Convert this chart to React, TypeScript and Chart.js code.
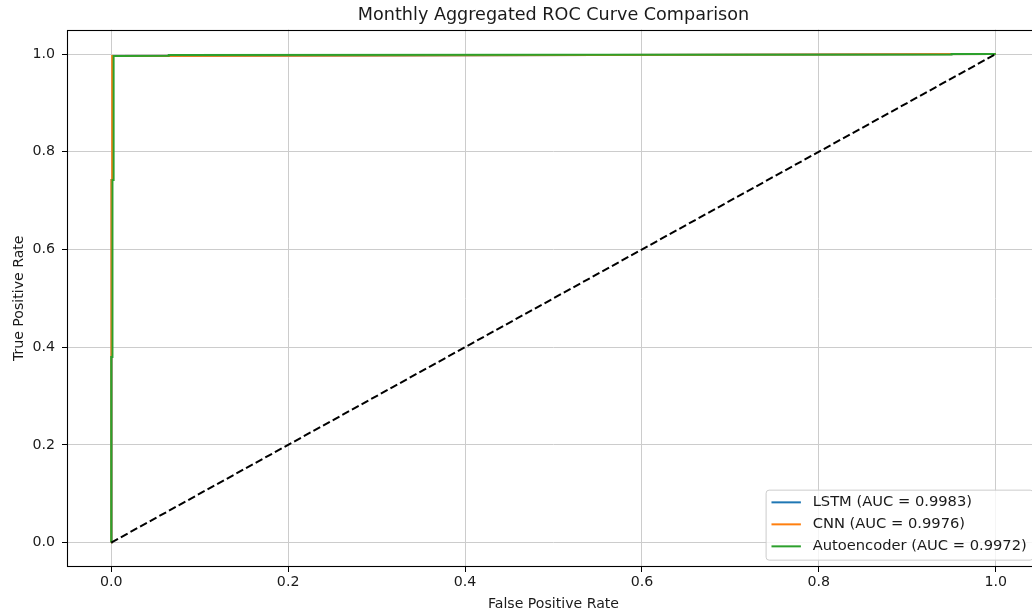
import React, { useEffect, useRef } from "react";
import { Chart, registerables } from "chart.js";

Chart.register(...registerables);

// ---- Data ----
const chartTitle = "Monthly Aggregated ROC Curve Comparison";
const xAxisTitle = "False Positive Rate";
const yAxisTitle = "True Positive Rate";

const xTicks = [0, 0.2, 0.4, 0.6, 0.8, 1.0];
const yTicks = [0, 0.2, 0.4, 0.6, 0.8, 1.0];

const seriesLabels = ["LSTM (AUC = 0.9983)", "CNN (AUC = 0.9976)", "Autoencoder (AUC = 0.9972)"];
const seriesColors = ["#1f77b4", "#ff7f0e", "#2ca02c"];

const lstmFpr = [0, 0, 0.0007, 0.0007, 0.0018, 0.0018, 0.3, 0.8, 1.0];
const lstmTpr = [0, 0.3, 0.3, 0.742, 0.742, 0.996, 0.997, 0.999, 1.0];

const cnnFpr = [0, 0, 0.0003, 0.0003, 0.0011, 0.0011, 0.3, 0.8, 1.0];
const cnnTpr = [0, 0.175, 0.175, 0.742, 0.742, 0.996, 0.997, 0.999, 1.0];

const aeFpr = [0, 0, 0.0014, 0.0014, 0.0027, 0.0027, 0.065, 0.065, 0.95, 0.95, 1.0];
const aeTpr = [0, 0.38, 0.38, 0.742, 0.742, 0.996, 0.9965, 0.998, 0.999, 1.0, 1.0];

const chanceFpr = [0, 1];
const chanceTpr = [0, 1];

// ---- Styles ----
const FONT = '"DejaVu Sans", sans-serif';
const TEXT = "#1a1a1a";
const GRID = "#cccccc";

const toPoints = (xs: number[], ys: number[]) => xs.map((x, i) => ({ x, y: ys[i] }));

const framePlugin = {
  id: "frame",
  afterDatasetsDraw(chart: any) {
    const { ctx, chartArea } = chart;
    ctx.save();
    ctx.strokeStyle = "#000";
    ctx.lineWidth = 1.1;
    const l = Math.round(chartArea.left) + 0.5;
    const t = Math.round(chartArea.top) + 0.5;
    const r = Math.round(chartArea.right) - 0.5;
    const b = Math.round(chartArea.bottom) - 0.5;
    ctx.strokeRect(l, t, r - l, b - t);
    ctx.restore();
  },
};

const legendPlugin = {
  id: "boxLegend",
  afterDraw(chart: any) {
    const { ctx, chartArea } = chart;
    const size = 14.7;
    ctx.save();
    ctx.font = `${size}px ${FONT}`;
    const maxW = Math.max(...seriesLabels.map((t) => ctx.measureText(t).width));
    const pad = 0.4 * size;
    const handleLen = 2 * size;
    const handlePad = 0.8 * size;
    const rowGap = 22;
    const right = chartArea.right - 0.5 * size;
    const bottom = chartArea.bottom - 0.5 * size;
    const w = pad + handleLen + handlePad + maxW + pad;
    const h = 70;
    const left = right - w;
    const top = bottom - h;
    ctx.beginPath();
    (ctx as any).roundRect(left + 0.5, top + 0.5, w, h, 3);
    ctx.fillStyle = "rgba(255,255,255,0.8)";
    ctx.fill();
    ctx.strokeStyle = "#cccccc";
    ctx.lineWidth = 1;
    ctx.stroke();
    ctx.textBaseline = "middle";
    ctx.textAlign = "left";
    seriesLabels.forEach((label, i) => {
      const y = top + 12.7 + i * rowGap;
      ctx.beginPath();
      ctx.strokeStyle = seriesColors[i];
      ctx.lineWidth = 2;
      ctx.moveTo(left + pad, y);
      ctx.lineTo(left + pad + handleLen, y);
      ctx.stroke();
      ctx.fillStyle = TEXT;
      ctx.fillText(label, left + pad + handleLen + handlePad, y);
    });
    ctx.restore();
  },
};

export default function App() {
  const ref = useRef<HTMLCanvasElement | null>(null);

  useEffect(() => {
    if (!ref.current) return;
    const lineDs = (label: string, pts: any[], color: string) => ({
      label,
      data: pts,
      borderColor: color,
      backgroundColor: color,
      borderWidth: 2,
      pointRadius: 0,
      tension: 0,
      fill: false,
    });
    // Chart.js draws the first dataset on top, so the list runs from top-most to bottom-most.
    const chart = new Chart(ref.current, {
      type: "line",
      data: {
        datasets: [
          { ...lineDs("Chance", toPoints(chanceFpr, chanceTpr), "#000000"), borderDash: [7.7, 3.3] },
          lineDs(seriesLabels[2], toPoints(aeFpr, aeTpr), seriesColors[2]),
          lineDs(seriesLabels[1], toPoints(cnnFpr, cnnTpr), seriesColors[1]),
          lineDs(seriesLabels[0], toPoints(lstmFpr, lstmTpr), seriesColors[0]),
        ],
      },
      options: {
        responsive: false,
        animation: false,
        devicePixelRatio: 1,
        layout: { padding: { left: 0, right: 10, top: 0, bottom: 0 } },
        plugins: {
          legend: { display: false },
          tooltip: { enabled: false },
          title: {
            display: true,
            text: chartTitle,
            fullSize: false,
            color: TEXT,
            font: { family: FONT, size: 17.6, weight: "normal" },
            padding: { top: 4.4, bottom: 4.1 },
          },
        },
        scales: {
          x: {
            type: "linear",
            min: -0.05,
            max: 1.05,
            afterBuildTicks: (s: any) => {
              s.ticks = xTicks.map((v) => ({ value: v }));
            },
            afterFit: (s: any) => {
              s.height = 46;
            },
            ticks: {
              autoSkip: false,
              maxRotation: 0,
              padding: 2,
              color: TEXT,
              font: { family: FONT, size: 14.2 },
              callback: (v: any) => Number(v).toFixed(1),
            },
            grid: { color: GRID, lineWidth: 1, tickColor: "#000", tickLength: 5, tickWidth: 1 },
            border: { display: false },
            title: {
              display: true,
              text: xAxisTitle,
              color: TEXT,
              font: { family: FONT, size: 14.1 },
              padding: { top: 0, bottom: 0.5 },
            },
          },
          y: {
            type: "linear",
            min: -0.05,
            max: 1.05,
            afterBuildTicks: (s: any) => {
              s.ticks = yTicks.map((v) => ({ value: v }));
            },
            afterFit: (s: any) => {
              s.width = 67;
            },
            ticks: {
              autoSkip: false,
              padding: 7,
              color: TEXT,
              font: { family: FONT, size: 14.2 },
              callback: (v: any) => Number(v).toFixed(1),
            },
            grid: { color: GRID, lineWidth: 1, tickColor: "#000", tickLength: 5, tickWidth: 1 },
            border: { display: false },
            title: {
              display: true,
              text: yAxisTitle,
              color: TEXT,
              font: { family: FONT, size: 14.1 },
              padding: { top: 10.5, bottom: 0 },
            },
          },
        },
      },
      plugins: [framePlugin, legendPlugin],
    } as any);
    return () => chart.destroy();
  }, []);

  return (
    <div
      style={{
        position: "fixed",
        left: 0,
        top: 0,
        width: 1032,
        height: 613,
        overflow: "hidden",
        background: "#fff",
      }}
    >
      <canvas ref={ref} width={1050} height={613} style={{ display: "block", width: 1050, height: 613 }} />
    </div>
  );
}
